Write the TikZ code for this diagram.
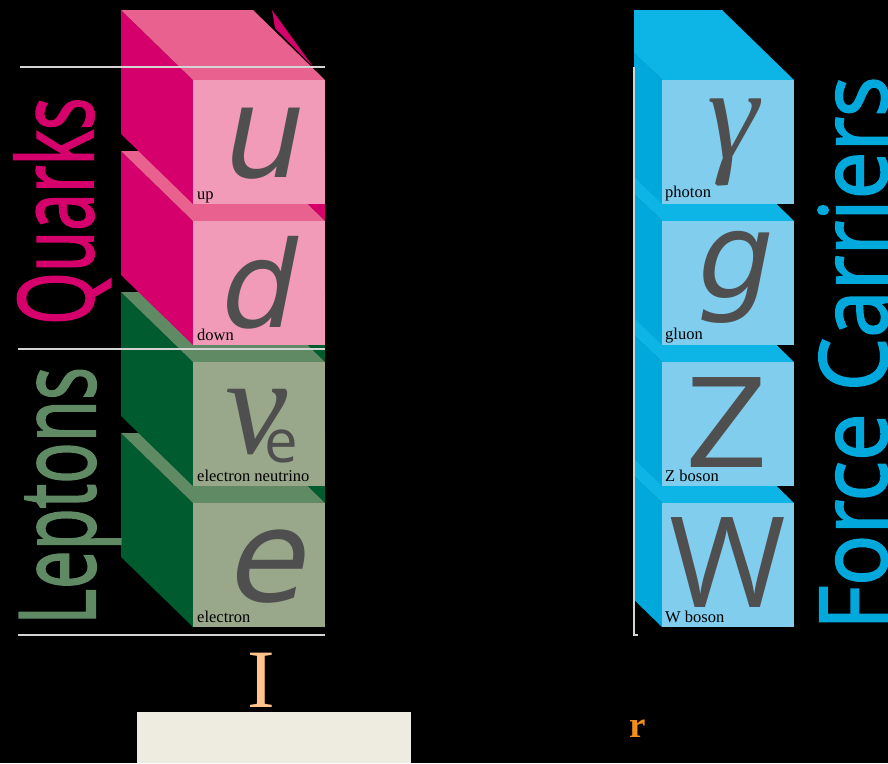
\documentclass[tikz,border=0pt]{standalone}
\usepackage{fontspec}
\usepackage{graphicx}
\setmainfont{Liberation Serif}
\newfontfamily\groupfont[FakeBold=2]{Open Sans}
\newfontfamily\symfont{Open Sans}
\newfontfamily\symslant[FakeSlant=0.2]{DejaVu Sans}
\newfontfamily\greekfont{Liberation Serif}
\newfontfamily\labelfont{Liberation Serif}

\definecolor{pinkfront}{HTML}{F29BB9}
\definecolor{pinktop}{HTML}{E9618F}
\definecolor{pinkside}{HTML}{D5006B}
\definecolor{greenfront}{HTML}{99A88A}
\definecolor{greentop}{HTML}{5F8A64}
\definecolor{greenside}{HTML}{005B2E}
\definecolor{bluefront}{HTML}{80CDEE}
\definecolor{bluetop}{HTML}{0DB4E6}
\definecolor{blueside}{HTML}{00A8DC}
\definecolor{symgrey}{HTML}{4F4F4F}
\definecolor{rulegrey}{HTML}{D4D4D4}
\definecolor{peach}{HTML}{FFC48C}
\definecolor{beige}{HTML}{EEEBE0}
\definecolor{amber}{HTML}{EF8F1C}

% One block of a column: #1 horizontal shift, #2 top edge of the front face,
% #3 side colour, #4 top colour, #5 front colour, #6 options for the back wedge
\newcommand{\cubeblock}[6]{%
  \begin{scope}[xshift=#1]
    \path[#6] (253,#2-70) -- (325,#2-70) -- (325,#2) -- cycle;
    \fill[#3] (121,#2-70) -- (193,#2) -- (193,#2+124) -- (121,#2+54) -- cycle;
    \fill[#4] (121,#2-70) -- (253,#2-70) -- (325,#2) -- (193,#2) -- cycle;
    \fill[#5] (193,#2) rectangle (325,#2+124);
  \end{scope}}

\tikzset{
  grouplabel/.style={rotate=90, anchor=base west, inner sep=0pt, font=\groupfont},
  particle/.style={anchor=base west, inner sep=0pt, text=black,
    font=\labelfont\fontsize{16.5}{18}\selectfont},
  symbol/.style={anchor=base, inner sep=0pt, text=symgrey},
  rulestroke/.style={draw=rulegrey, line width=1.6pt},
}

\begin{document}
\begin{tikzpicture}[x=1pt,y=-1pt]
  \fill[black] (0,0) rectangle (888,763);
  \useasboundingbox (0,0) rectangle (888,763);

  % quark and lepton column, drawn from the bottom block up
  \cubeblock{0pt}{503}{greenside}{greentop}{greenfront}{fill=greenside}
  \cubeblock{0pt}{362}{greenside}{greentop}{greenfront}{fill=greenside}
  \cubeblock{0pt}{221}{pinkside}{pinktop}{pinkfront}{fill=pinkside}
  \fill[pinkside] (272,10) -- (314,68) -- (275,28) -- cycle;
  \cubeblock{0pt}{80}{pinkside}{pinktop}{pinkfront}{}

  % force carrier column, cut off on its left side
  \begin{scope}
    \clip (634,0) rectangle (888,763);
    \cubeblock{469pt}{503}{blueside}{bluetop}{bluefront}{}
    \cubeblock{469pt}{362}{blueside}{bluetop}{bluefront}{}
    \cubeblock{469pt}{221}{blueside}{bluetop}{bluefront}{}
    \cubeblock{469pt}{80}{blueside}{bluetop}{bluefront}{}
  \end{scope}

  % particle symbols
  \node[symbol, font=\symslant\fontsize{127}{127}\selectfont] (symu) at (258,177) {u};
  \node[symbol, font=\symslant\fontsize{120}{120}\selectfont] (symd) at (254,327) {d};
  \node[symbol, font=\greekfont\itshape\fontsize{140}{140}\selectfont] (symnu) at (257,453) {ν};
  \node[symbol, font=\symfont\fontsize{60}{60}\selectfont] (symnue) at (281,462) {e};
  \node[symbol, font=\symslant\fontsize{128}{128}\selectfont] (syme) at (264,601) {e};
  \node[symbol, font=\greekfont\itshape\fontsize{130}{130}\selectfont] (symgamma) at (733,158) {γ};
  \node[symbol, font=\symslant\fontsize{120}{120}\selectfont] (symg) at (730,298) {g};
  \node[symbol, font=\symfont\fontsize{126}{126}\selectfont, xscale=1.15] (symz) at (727,467) {Z};
  \node[symbol, font=\symfont\fontsize{126}{126}\selectfont] (symw) at (728,607) {W};

  % particle names
  \node[particle] (nameu) at (197,199) {up};
  \node[particle] (named) at (197,340) {down};
  \node[particle] (namenu) at (197,481) {electron neutrino};
  \node[particle] (namee) at (197,622) {electron};
  \node[particle] (namegamma) at (665,197) {photon};
  \node[particle] (nameg) at (665,339) {gluon};
  \node[particle] (namez) at (665,481) {Z boson};
  \node[particle] (namew) at (665,622) {W boson};

  % group rules
  \coordinate (r1a) at (20,67);   \coordinate (r1b) at (325,67);
  \coordinate (r2a) at (18,349);  \coordinate (r2b) at (325,349);
  \coordinate (r3a) at (18,635);  \coordinate (r3b) at (325,635);
  \coordinate (v1) at (634,67);   \coordinate (v2) at (634,635);
  \coordinate (v3) at (638,635);
  \draw[rulestroke] (r1a) -- (r1b);
  \draw[rulestroke] (r2a) -- (r2b);
  \draw[rulestroke] (r3a) -- (r3b);
  \draw[rulestroke, line width=1.2pt] (v1) -- (v2) -- (v3);

  % group names
  \node[grouplabel, text=pinkside] (quarks) at (93,325)
    {\scalebox{0.65}[1]{\fontsize{104}{104}\selectfont Quarks}};
  \node[grouplabel, text=greentop] (leptons) at (95,625)
    {\scalebox{0.65}[1]{\fontsize{106}{106}\selectfont Leptons}};
  \node[grouplabel, text=blueside] (forces) at (887,630)
    {\scalebox{0.905}[1]{\fontsize{94}{94}\selectfont Force Carriers}};

  % generation mark and footer
  \node[anchor=base, inner sep=0pt, text=peach, font=\fontsize{83}{83}\selectfont] (gen) at (261,707) {I};
  \fill[beige] (137,712) rectangle (411,763);
  \node[anchor=base west, inner sep=0pt, text=amber, font=\bfseries\fontsize{37}{37}\selectfont] (mark) at (629,737) {r};
\end{tikzpicture}
\end{document}
